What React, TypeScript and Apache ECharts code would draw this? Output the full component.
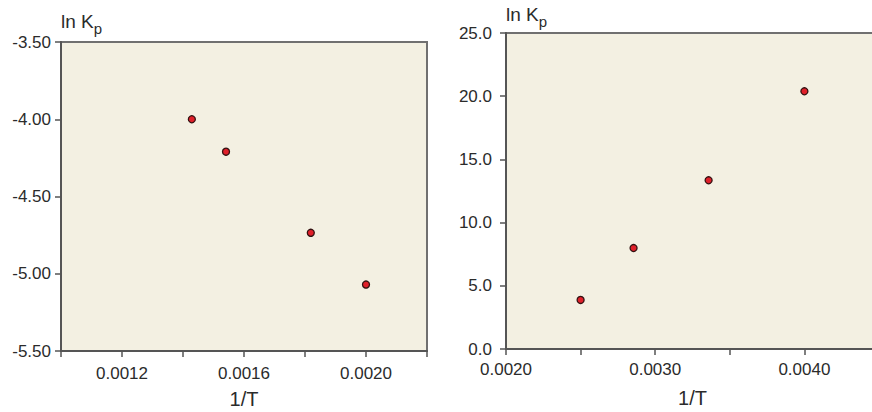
import React, { useEffect, useRef } from "react";
import * as echarts from "echarts";

// Left panel: ln Kp vs 1/T
const leftX = [0.001429, 0.001541, 0.001819, 0.002];
const leftY = [-4.0, -4.21, -4.735, -5.07];
// Right panel: ln Kp vs 1/T
const rightX = [0.0025, 0.002855, 0.003358, 0.004];
const rightY = [3.88, 7.99, 13.35, 20.39];

const FONT = "'Liberation Sans', Arial, sans-serif";
const BG = "#f3f0e2";
const AXIS = "#555555";
const TEXT = "#2b2b2b";

const yName = "{a|ln K}{b|p}";
const yNameStyle = {
  align: "left" as const,
  verticalAlign: "bottom" as const,
  rich: {
    a: { fontSize: 19, fontFamily: FONT, color: TEXT, lineHeight: 24, verticalAlign: "top" as const },
    b: { fontSize: 15, fontFamily: FONT, color: TEXT, lineHeight: 24, verticalAlign: "bottom" as const, padding: [5, 0, 0, 0] },
  },
};

export default function App() {
  const ref = useRef<HTMLDivElement>(null);
  useEffect(() => {
    if (!ref.current) return;
    const chart = echarts.init(ref.current, undefined, { renderer: "svg" });
    const axisCommon = {
      axisLine: { show: true, onZero: false, lineStyle: { color: AXIS, width: 2 } },
      axisTick: { show: true, length: 6, lineStyle: { color: AXIS, width: 1.5 } },
      splitLine: { show: false },
    };
    const labelCommon = { color: TEXT, fontSize: 17, fontFamily: FONT };
    chart.setOption({
      animation: false,
      backgroundColor: "#ffffff",
      grid: [
        { left: 61, top: 42, width: 366, height: 309, show: true, backgroundColor: BG, borderColor: "#707070", borderWidth: 2, outerBoundsMode: "none", containLabel: false },
        { left: 506, top: 33, width: 373, height: 316, show: true, backgroundColor: BG, borderColor: "#707070", borderWidth: 2, outerBoundsMode: "none", containLabel: false },
      ],
      xAxis: [
        {
          ...axisCommon,
          gridIndex: 0,
          type: "value",
          min: 0.001,
          max: 0.0022,
          interval: 0.0002,
          axisLabel: {
            ...labelCommon,
            margin: 14,
            showMinLabel: true,
            showMaxLabel: true,
            formatter: (v: number) => (Math.round(v / 0.0002) % 2 === 0 ? v.toFixed(4) : ""),
          },
          name: "1/T",
          nameLocation: "middle",
          nameGap: 38,
          nameTextStyle: { fontSize: 20, fontFamily: FONT, color: TEXT },
        },
        {
          ...axisCommon,
          gridIndex: 1,
          type: "value",
          min: 0.002,
          max: 0.0045,
          interval: 0.0005,
          axisLabel: {
            ...labelCommon,
            margin: 12,
            showMinLabel: true,
            formatter: (v: number) => (Math.round(v / 0.0005) % 2 === 0 ? v.toFixed(4) : ""),
          },
          name: "1/T",
          nameLocation: "middle",
          nameGap: 39,
          nameTextStyle: { fontSize: 20, fontFamily: FONT, color: TEXT },
        },
      ],
      yAxis: [
        {
          ...axisCommon,
          gridIndex: 0,
          type: "value",
          min: -5.5,
          max: -3.5,
          interval: 0.5,
          axisLabel: { ...labelCommon, margin: 10, formatter: (v: number) => v.toFixed(2) },
          name: yName,
          nameLocation: "end",
          nameGap: 6,
          nameTextStyle: yNameStyle,
        },
        {
          ...axisCommon,
          gridIndex: 1,
          type: "value",
          min: 0,
          max: 25,
          interval: 5,
          axisLabel: { ...labelCommon, margin: 14, formatter: (v: number) => v.toFixed(1) },
          name: yName,
          nameLocation: "end",
          nameGap: 4,
          nameTextStyle: yNameStyle,
        },
      ],
      series: [
        {
          type: "scatter",
          xAxisIndex: 0,
          yAxisIndex: 0,
          symbolSize: 7,
          itemStyle: { color: "#e0202a", borderColor: "#331010", borderWidth: 1.3, opacity: 1 },
          data: leftX.map((x, i) => [x, leftY[i]]),
        },
        {
          type: "scatter",
          xAxisIndex: 1,
          yAxisIndex: 1,
          symbolSize: 7,
          itemStyle: { color: "#e0202a", borderColor: "#331010", borderWidth: 1.3, opacity: 1 },
          data: rightX.map((x, i) => [x, rightY[i]]),
        },
      ],
    });
    return () => chart.dispose();
  }, []);
  return (
    <div style={{ position: "fixed", left: 0, top: 0, width: 872, height: 412, overflow: "hidden", background: "#fff" }}>
      <div ref={ref} style={{ width: 886, height: 412 }} />
    </div>
  );
}
